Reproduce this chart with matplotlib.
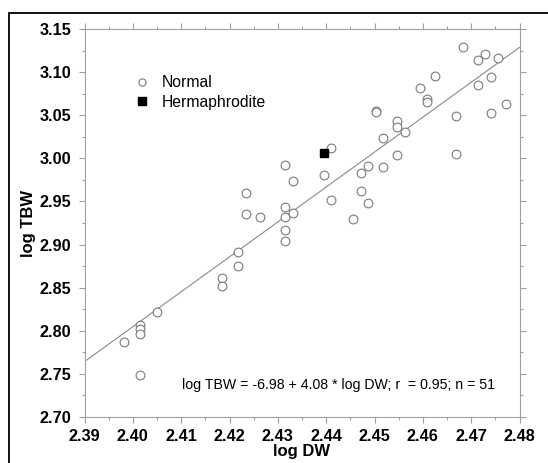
"""
Body water vs. dry weight (log-log) scatter with regression line.
"""
import matplotlib
matplotlib.use("Agg")
import matplotlib.pyplot as plt
from matplotlib.patches import Rectangle
from matplotlib.ticker import MultipleLocator

# normal animals
normal_dw = [2.3982, 2.4015, 2.4015, 2.4015, 2.4015, 2.4049, 2.4184, 2.4184,
             2.4217, 2.4217, 2.4234, 2.4234, 2.4264, 2.4315, 2.4315, 2.4315,
             2.4315, 2.4315, 2.4332, 2.4332, 2.4395, 2.4409, 2.4409, 2.4456,
             2.4473, 2.4473, 2.4486, 2.4486, 2.4503, 2.4503, 2.4517, 2.4517,
             2.4547, 2.4547, 2.4547, 2.4564, 2.4595, 2.4608, 2.4608, 2.4625,
             2.4669, 2.4669, 2.4684, 2.4714, 2.4714, 2.4728, 2.4742, 2.4742,
             2.4756, 2.4772]
normal_tbw = [2.7869, 2.8067, 2.8020, 2.7960, 2.7480, 2.8214, 2.8610, 2.8524,
              2.8916, 2.8746, 2.9599, 2.9355, 2.9320, 2.9929, 2.9432, 2.9320,
              2.9164, 2.9040, 2.9742, 2.9370, 2.9804, 3.0123, 2.9521, 2.9292,
              2.9836, 2.9618, 2.9917, 2.9479, 3.0553, 3.0538, 3.0243, 2.9901,
              3.0433, 3.0363, 3.0041, 3.0305, 3.0821, 3.0685, 3.0654, 3.0960,
              3.0495, 3.0057, 3.1290, 3.1143, 3.0852, 3.1209, 3.0945, 3.0522,
              3.1162, 3.0635]

herm_dw = [2.4395]
herm_tbw = [3.0068]

# regression line end points
fit_dw = [2.39, 2.48]
fit_tbw = [2.764, 3.129]

eq_text = "log TBW = -6.98 + 4.08 * log DW; r  = 0.95; n = 51"

plt.rcParams["font.family"] = ["Liberation Sans", "DejaVu Sans"]

fig = plt.figure(figsize=(5.48, 4.63), dpi=100)
ax = fig.add_axes([84.5 / 548, 1 - 416.7 / 463, (519.5 - 84.5) / 548, (416.7 - 29.3) / 463])

ax.plot(fit_dw, fit_tbw, color="#8a8a8a", lw=0.8, zorder=1)
ax.plot(normal_dw, normal_tbw, ls="none", marker="o", ms=6.3, mfc="white",
        mec="#7a7a7a", mew=0.8, label="Normal", zorder=2)
ax.plot(herm_dw, herm_tbw, ls="none", marker="s", ms=6.0, mfc="black",
        mec="black", label="Hermaphrodite", zorder=3)

ax.set_xlim(2.39, 2.48)
ax.set_ylim(2.70, 3.15)
ax.xaxis.set_major_locator(MultipleLocator(0.01))
ax.xaxis.set_minor_locator(MultipleLocator(0.005))
ax.yaxis.set_major_locator(MultipleLocator(0.05))
ax.yaxis.set_minor_locator(MultipleLocator(0.025))
ax.xaxis.set_major_formatter(plt.FormatStrFormatter("%.2f"))
ax.yaxis.set_major_formatter(plt.FormatStrFormatter("%.2f"))

for s in ax.spines.values():
    s.set_color("#a0a0a0")
    s.set_linewidth(0.8)
ax.tick_params(which="both", direction="out", color="#a0a0a0", width=0.8,
               top=True, right=True)
ax.tick_params(which="major", length=4.3)
ax.tick_params(which="minor", length=2.2)
ax.tick_params(axis="x", which="major", pad=4.5)
ax.tick_params(axis="y", which="major", pad=5.0)
for lab in ax.get_xticklabels() + ax.get_yticklabels():
    lab.set_fontsize(11.7)
    lab.set_fontweight("bold")

ax.set_xlabel("log DW", fontsize=12, fontweight="bold", labelpad=0)
ax.set_ylabel("log TBW", fontsize=12, fontweight="bold", labelpad=3)

leg = ax.legend(loc="upper left", bbox_to_anchor=(134 / 548, 1 - 75 / 463),
                bbox_transform=fig.transFigure, frameon=False, fontsize=11.3,
                handlelength=1.0, handletextpad=0.75, borderpad=0,
                borderaxespad=0, labelspacing=0.3)
for h in leg.legend_handles:
    h.set_markersize(5.2)

ax.text(181.7 / 548, 1 - 385.3 / 463, eq_text, transform=fig.transFigure,
        fontsize=10.2, ha="left", va="center")

# outer frame, runs off the right and bottom edges
fig.patches.append(Rectangle((9.4 / 548, -0.1), 1.2, 1 - 12.7 / 463 + 0.1,
                             transform=fig.transFigure, fill=False,
                             edgecolor="black", lw=1.3))

fig.savefig("out.png", dpi=100)
